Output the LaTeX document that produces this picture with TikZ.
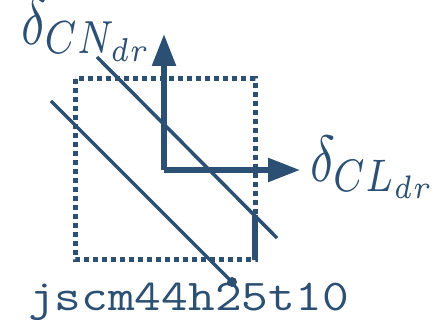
\documentclass[tikz,border=0pt]{standalone}
\usepackage{graphicx}
\usetikzlibrary{arrows.meta}
\definecolor{ink}{HTML}{2C5073}
\newsavebox\lblbox
\newcommand\trimtop[2]{\sbox\lblbox{#2}\raisebox{0pt}[\dimexpr\ht\lblbox-#1\relax][\dp\lblbox]{\usebox\lblbox}}
\begin{document}
\begin{tikzpicture}[x=1pt,y=-1pt,
  every node/.style={text=ink,inner sep=0pt,outer sep=0pt},
  axis/.style={draw=ink,line width=5.5pt,-{Triangle[length=32pt,width=23pt]}},
  diag/.style={draw=ink,line width=3.5pt},
  box/.style={draw=ink,line width=5pt,dash pattern=on 5pt off 4pt}]
\useasboundingbox (0,0) rectangle (447,326);
\coordinate (o) at (164,170);
\coordinate (ytip) at (164,34);
\coordinate (xtip) at (300,170);
\coordinate (a1) at (97,57);
\coordinate (a2) at (277,238);
\coordinate (b1) at (51,101);
\coordinate (b2) at (232,282);
\coordinate (r1) at (255,215);
\coordinate (r2) at (255,260);
\draw[box] (75,79) rectangle (255,259);
\draw[draw=ink,line width=5.5pt] (r1) -- (r2);
\draw[axis] (o) -- (ytip);
\draw[axis] (o) -- (xtip);
\draw[diag] (a1) -- (a2);
\draw[diag] (b1) -- (b2);
\fill[ink] (b2) circle (5pt);
\node[anchor=north west] (cn) at (21,3) {\trimtop{5pt}{\resizebox*{132pt}{63pt}{$\delta_{CN_{dr}}$}}};
\node[anchor=north west] (cl) at (310,136) {\resizebox*{126pt}{62pt}{$\delta_{CL_{dr}}$}};
\node[anchor=base west] (lbl) at (28,310) {\scalebox{1.18}[1]{\fontsize{44}{44}\selectfont\ttfamily jscm44h25t10}};
\end{tikzpicture}
\end{document}
